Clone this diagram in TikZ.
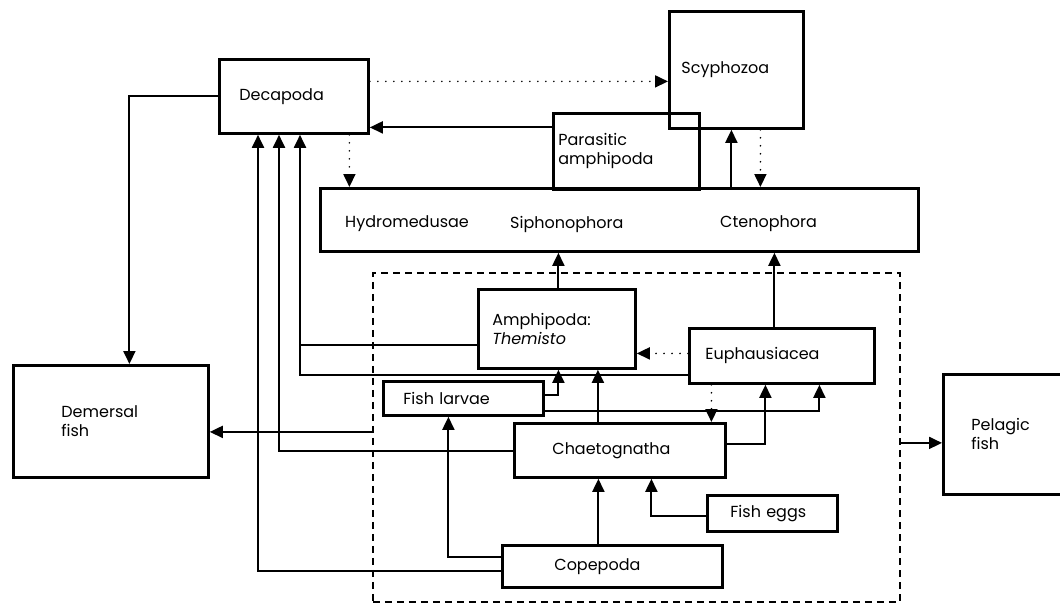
\documentclass[tikz,border=0pt]{standalone}
\usepackage{fontspec}
\setmainfont{Poppins}
\usepackage{tikz}
\usetikzlibrary{shapes,arrows,positioning,calc,arrows.meta}

\begin{document}
\begin{tikzpicture}[x=1pt, y=-1pt,
    box/.style={draw, line width=2.8pt, anchor=north west, align=left, inner ysep=2pt},
    link/.style={line width=1.9pt},
    arr/.style={link, -{Triangle[length=13pt,width=12pt]}},
    dots/.style={line width=1.8pt, line cap=round, dash pattern=on 0pt off 8pt},
    dotarr/.style={dots, -{Triangle[length=13pt,width=12pt]}},
    every node/.style={font=\fontsize{16}{19}\selectfont}]
    \path[use as bounding box, fill=white] (0,0) rectangle (1060,603);

    % Boxes
    \node[box, minimum height=74pt, text width=109pt, inner xsep=20pt] (decapoda) at (218,58) {Decapoda};
    \node[box, minimum height=117pt, text width=110pt, inner xsep=12pt] (scypho) at (668,10) {Scyphozoa};
    \node[box, minimum width=598pt, minimum height=63pt, inner sep=0pt] (cnid) at (319,187) {};
    \node[box, minimum height=76pt, text width=136pt, inner xsep=5pt] (parasit) at (552,112) {Parasitic\\amphipoda};
    \node[draw, line width=1.8pt, dash pattern=on 7pt off 5pt, anchor=north west,
          minimum width=527pt, minimum height=329pt, inner sep=0pt] (zoo) at (372,272) {};
    \node[box, minimum height=79pt, text width=129pt, inner xsep=14pt] (amphi) at (477,288) {Amphipoda:\\\textit{Themisto}};
    \node[box, minimum height=55pt, text width=153pt, inner xsep=16pt] (euph) at (688,327) {Euphausiacea};
    \node[box, minimum height=34pt, text width=120pt, inner xsep=20pt] (larvae) at (382,380) {Fish larvae};
    \node[box, minimum height=54pt, text width=135pt, inner xsep=38pt] (chaeto) at (513,422) {Chaetognatha};
    \node[box, minimum height=36pt, text width=84pt, inner xsep=23pt] (eggs) at (706,494) {Fish eggs};
    \node[box, minimum height=42pt, text width=116pt, inner xsep=52pt] (cope) at (501,544) {Copepoda};
    \node[box, minimum height=112pt, text width=99pt, inner xsep=48pt] (demersal) at (12,364) {Demersal\\fish};
    \node[box, minimum height=120pt, text width=84pt, inner xsep=28pt] (pelagic) at (942,373) {Pelagic\\fish};

    % Cnidaria and ctenophores
    \foreach \x/\name in {345/Hydromedusae, 510/Siphonophora, 720/Ctenophora}
        \node[anchor=west, inner sep=0pt] (\name) at (\x,224) {\name};

    \coordinate (d1) at ([xshift=40pt]decapoda.south west);
    \coordinate (d2) at ([xshift=61pt]decapoda.south west);
    \coordinate (d3) at ([xshift=82pt]decapoda.south west);

    % Top level
    \draw[arr] (decapoda.west) -| ([xshift=18.5pt]demersal.north);
    \draw[dotarr] ([yshift=15pt]decapoda.east) -- ([yshift=15pt]decapoda.east -| scypho.west);
    \draw[arr] ([yshift=24pt]parasit.west) -- ([yshift=24pt]parasit.west -| decapoda.east);
    \draw[dotarr] ([xshift=55.5pt]decapoda.south) -- ([xshift=55.5pt]decapoda.south |- cnid.north);
    \draw[arr] ([xshift=-5pt]scypho.south |- cnid.north) -- ([xshift=-5pt]scypho.south);
    \draw[dotarr] ([xshift=24pt]scypho.south) -- ([xshift=24pt]scypho.south |- cnid.north);
    \draw[arr] ([xshift=1.5pt]amphi.north) -- ([xshift=1.5pt]amphi.north |- cnid.south);
    \draw[arr] ([xshift=-7.5pt]euph.north) -- ([xshift=-7.5pt]euph.north |- cnid.south);

    % Into Decapoda
    \draw[arr] ([yshift=-5pt]cope.west) -| (d1);
    \draw[arr] ([yshift=-1pt]chaeto.west) -| (d2);
    \draw[arr] ([yshift=-19.5pt]euph.west) -| (d3);
    \draw[link] ([yshift=-16.5pt]amphi.west) -- ([yshift=-16.5pt]amphi.west -| d3);

    % Out to the fishes
    \draw[arr] ([yshift=5.5pt]zoo.west) -- ([yshift=5.5pt]zoo.west -| demersal.east);
    \draw[arr] ([yshift=-5.5pt]zoo.east) -- ([yshift=-5.5pt]zoo.east -| pelagic.west);

    % Inside the dashed box
    \draw[dotarr] ([yshift=2.5pt]euph.west) -- ([yshift=2.5pt]euph.west -| amphi.east);
    \draw[arr] ([yshift=3pt]larvae.east) -| ([xshift=1.5pt]amphi.south);
    \draw[arr] ([xshift=-22pt]chaeto.north) -- ([xshift=-22pt]chaeto.north |- amphi.south);
    \draw[dotarr] ([xshift=-70.5pt]euph.south) -- ([xshift=-70.5pt]euph.south |- chaeto.north);
    \draw[arr] ([yshift=-13pt]larvae.east) -| ([xshift=37.5pt]euph.south);
    \draw[arr] ([yshift=6pt]chaeto.east) -| ([xshift=-16.5pt]euph.south);
    \draw[arr] ([xshift=-14pt]cope.north) -- ([xshift=-14pt]cope.north |- chaeto.south);
    \draw[arr] ([yshift=-3pt]eggs.west) -| ([xshift=31.5pt]chaeto.south);
    \draw[arr] ([yshift=9pt]cope.west) -| ([xshift=-15pt]larvae.south);
\end{tikzpicture}
\end{document}
